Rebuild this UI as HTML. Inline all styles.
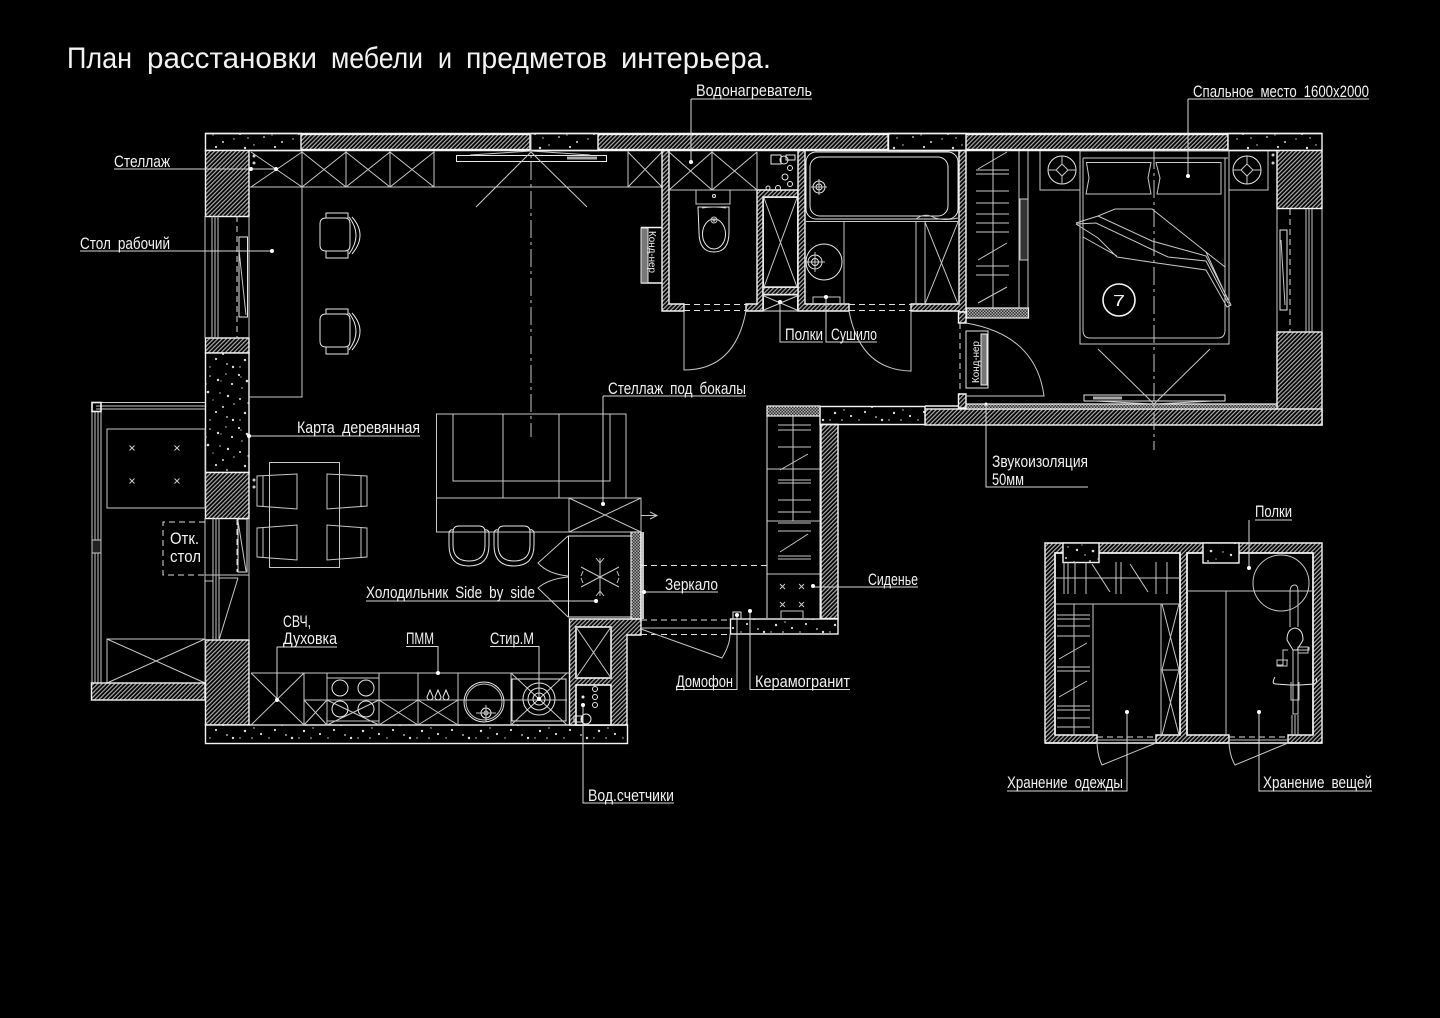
<!DOCTYPE html>
<html><head><meta charset="utf-8"><title>План расстановки</title>
<style>
html,body{margin:0;padding:0;background:#000}
svg{display:block}
text{font-family:"Liberation Sans","DejaVu Sans",sans-serif;fill:#f2f2f2;font-size:16.5px;word-spacing:4px}
.w{stroke:#f4f4f4;stroke-width:1.6;fill:none}
.l{stroke:#c8c8c8;stroke-width:1;fill:none}
.b{stroke:#e8e8e8;stroke-width:1;fill:none}
.d{stroke:#e0e0e0;stroke-width:1;fill:none;stroke-dasharray:6 4}
.c{stroke:#c8c8c8;stroke-width:1;fill:none;stroke-dasharray:18 4 3 4}
.h{fill:url(#hatch);stroke:#f4f4f4;stroke-width:1.4}
.s{fill:url(#spk);stroke:#f4f4f4;stroke-width:1.4}
.k{fill:url(#chk);stroke:#f4f4f4;stroke-width:1.2}
.t{font-size:30px;word-spacing:0}
</style></head><body>
<svg width="1440" height="1018" viewBox="0 0 1440 1018" xmlns="http://www.w3.org/2000/svg">
<defs>
<pattern id="hatch" width="3" height="3" patternUnits="userSpaceOnUse" patternTransform="rotate(-45)"><rect width="3" height="3" fill="#000"/><rect width="3" height="1.2" fill="#b0b0b0"/></pattern>
<pattern id="chk" width="3" height="3" patternUnits="userSpaceOnUse"><rect width="3" height="3" fill="#333"/><rect width="1.5" height="1.5" fill="#aaa"/><rect x="1.5" y="1.5" width="1.5" height="1.5" fill="#aaa"/></pattern>
<pattern id="spk" width="59" height="53" patternUnits="userSpaceOnUse"><rect width="59" height="53" fill="#000"/>
<g fill="#ddd"><circle cx="3" cy="4" r="1.100"/><circle cx="5" cy="6" r=".6"/><circle cx="11" cy="10" r="1.300"/><circle cx="18" cy="3" r=".7"/><circle cx="26" cy="12" r="1.100"/><circle cx="29" cy="13" r=".7"/><circle cx="33" cy="5" r=".8"/><circle cx="6" cy="17" r=".7"/><circle cx="15" cy="20" r="1.200"/><circle cx="23" cy="25" r=".7"/><circle cx="31" cy="21" r="1.300"/><circle cx="4" cy="28" r="1"/><circle cx="12" cy="32" r=".7"/><circle cx="20" cy="15" r=".6"/><circle cx="28" cy="31" r=".9"/><circle cx="36" cy="29" r=".6"/><circle cx="41" cy="9" r="1.200"/><circle cx="44" cy="10" r=".6"/><circle cx="49" cy="3" r=".7"/><circle cx="55" cy="13" r="1.100"/><circle cx="43" cy="22" r=".7"/><circle cx="51" cy="25" r="1.200"/><circle cx="57" cy="33" r=".7"/><circle cx="46" cy="36" r="1"/><circle cx="39" cy="41" r="1.100"/><circle cx="9" cy="42" r="1.200"/><circle cx="18" cy="39" r=".7"/><circle cx="25" cy="45" r="1.100"/><circle cx="33" cy="49" r=".7"/><circle cx="4" cy="49" r=".7"/><circle cx="50" cy="46" r=".9"/><circle cx="56" cy="49" r="1.200"/><circle cx="16" cy="49" r=".8"/></g></pattern>
</defs>
<rect width="1440" height="1018" fill="#000"/>

<!-- outer walls -->
<rect class="s" x="205.500" y="133.500" width="96" height="17"/>
<rect class="h" x="301" y="134.500" width="229" height="15"/>
<rect class="s" x="530.500" y="133.500" width="68" height="17"/>
<rect class="h" x="598" y="134.500" width="290" height="15"/>
<rect class="s" x="888.500" y="133.500" width="78" height="17"/>
<rect class="h" x="966" y="134.500" width="262" height="15"/>
<rect class="s" x="1228" y="133.500" width="94" height="17"/>
<path class="w" d="M205 133.500H1322M249 150.500H1277"/>
<rect class="h" x="205.500" y="150.500" width="43.500" height="66"/>
<rect class="h" x="205.500" y="338" width="43.500" height="15"/>
<rect class="s" x="205.500" y="353" width="43.500" height="119.500"/>
<rect class="h" x="205.500" y="472.500" width="43.500" height="46"/>
<rect class="h" x="205.500" y="640" width="43.500" height="85"/>
<rect class="s" x="205.500" y="725" width="422" height="18.500"/>
<rect class="h" x="1277" y="150.500" width="45" height="58"/>
<rect class="h" x="1277" y="332" width="45" height="93"/>
<rect class="h" x="925" y="409" width="397" height="16"/>
<rect class="k" x="960" y="404" width="317" height="5"/>
<rect class="s" x="820" y="406.500" width="105" height="18"/>
<rect class="k" x="767" y="406" width="53" height="10"/>
<rect class="h" x="821" y="424.500" width="17" height="194"/>
<rect class="s" x="730.500" y="619" width="107.500" height="15"/>
<rect class="k" x="631" y="532" width="10" height="87"/>
<path class="h" d="M569.500 619H641V635H627V725H569.500Z"/>
<rect x="576" y="627" width="35" height="51" class="w" style="fill:#000"/>
<rect x="576" y="685" width="35" height="40" class="w" style="fill:#000"/>
<path class="l" d="M576 627L611 678M611 627L576 678"/>
<path class="w" d="M820 424.500H838M925 406H960"/>
<path class="b" d="M767 416V618M820 416V619"/>

<!-- windows left -->
<path class="l" d="M205 216V338M212 216V338M215 216V338M218 216V338M249 216V338"/>
<path class="d" d="M237 216V338" stroke-dasharray="4 3"/>
<rect class="b" x="239" y="237" width="8.500" height="80"/>
<path class="l" d="M239 250L246 315"/>
<path class="l" d="M205 518V640M213 518V640M216 518V640M219 518V640M249 518V640M205 575H249M205 581H213M219 578H238M238 578L219 640"/>
<path class="d" d="M237 519V572" stroke-dasharray="3 3"/>
<rect class="b" x="238" y="519" width="9" height="53"/>
<path class="l" d="M238 521L246 571"/>
<!-- balcony -->
<path class="l" d="M96 406H205M96 402.500H205M96 409H205M92 411V683M95 411V683M98 411V683M101 411V683"/>
<rect class="w" x="92" y="402.500" width="9" height="9"/>
<rect x="92" y="540" width="9" height="13" class="l" style="fill:#222"/>
<rect class="l" x="107" y="429" width="98" height="79"/>
<path stroke="#ccc" fill="none" d="M129.500 445.500l5 5M134.500 445.500l-5 5M174.500 445.500l5 5M179.500 445.500l-5 5M129.500 478.500l5 5M134.500 478.500l-5 5M174.500 478.500l5 5M179.500 478.500l-5 5"/>
<path class="d" d="M205 522H163V575H205" stroke-dasharray="5 4"/>
<text x="170" y="544" textLength="29" lengthAdjust="spacingAndGlyphs">Отк.</text>
<text x="170" y="562" textLength="31" lengthAdjust="spacingAndGlyphs">стол</text>
<rect class="l" x="107" y="639" width="98" height="44"/>
<path class="l" d="M107 639L205 683M205 639L107 683"/>
<rect class="h" x="91.500" y="683" width="113.500" height="17"/>

<!-- stellage top -->
<path class="l" d="M249 187H662M302 151V187M346 151V187M390 151V187M434 151V187M628 151V187"/>
<path class="l" d="M251 152L302 187M302 152L251 187M302 152L346 187M346 152L302 187M346 152L390 187M390 152L346 187M390 152L434 187M434 152L390 187M628 152L662 187M662 152L628 187"/>
<circle cx="254" cy="156" r="1.500" fill="#ccc"/><circle cx="254" cy="163" r="1.500" fill="#ccc"/>
<rect class="b" x="456.500" y="155.500" width="150" height="6"/>
<path class="l" d="M531 152L476 207M531 152L587 207M470 155L531 151L590 155"/>
<rect x="567" y="156.500" width="30" height="3" fill="#aaa"/>
<path class="c" d="M531 133V437"/>
<!-- desk -->
<path class="l" d="M302 187V397H249"/>
<g class="b"><path d="M320 224Q320 218 326 218H345Q350 218 350 224V245Q350 251 345 251H326Q320 251 320 245Z"/><path d="M326 218V213H348V218M326 251V258H348V251M352 217Q368 235 352 254M349 217Q363 235 349 254"/></g>
<g class="b" transform="translate(0,96)"><path d="M320 224Q320 218 326 218H345Q350 218 350 224V245Q350 251 345 251H326Q320 251 320 245Z"/><path d="M326 218V213H348V218M326 251V258H348V251M352 217Q368 235 352 254M349 217Q363 235 349 254"/></g>

<!-- dining -->
<rect class="l" x="269.500" y="462.500" width="70" height="105"/>
<g class="l"><path d="M257 476L297 474V509L257 506ZM263 475.500V506.500"/><path d="M257 528L297 525V560L257 557ZM263 527.500V557.500"/><path d="M367 476L327 474V509L367 506ZM361 475.500V506.500"/><path d="M367 528L327 525V560L367 557ZM361 527.500V557.500"/></g>
<circle cx="254" cy="480" r="1.500" fill="#ccc"/><circle cx="254" cy="487" r="1.500" fill="#ccc"/>

<!-- sofa + bar -->
<rect class="l" x="436.500" y="414" width="189.500" height="84"/>
<path class="l" d="M453 414V481H610V414M503 414V498M559 414V498M436.500 498V532H641M569 498V532M569 498H641V532M569 498L641 532M641 498L569 532"/>
<path class="l" d="M641 515.500H657M650 512L657 515.500L650 519"/>
<g class="b"><path d="M449 532V545Q449 566 469 566Q489 566 489 545V532Q487 529 485 530M449 532Q451 529 453 530M453 545V532Q453 526 459 526H479Q485 526 485 532V545Q485 561 469 561Q453 561 453 545Z"/></g>
<g class="b" transform="translate(45,0)"><path d="M449 532V545Q449 566 469 566Q489 566 489 545V532Q487 529 485 530M449 532Q451 529 453 530M453 545V532Q453 526 459 526H479Q485 526 485 532V545Q485 561 469 561Q453 561 453 545Z"/></g>
<!-- fridge -->
<rect class="b" x="568.500" y="536" width="62.500" height="81"/>
<path class="l" d="M568 536L538 563Q548 574 568 576M568 617L538 588Q548 579 568 577"/>
<path class="l" d="M600 558V596M581 567L619 587M619 567L581 587M600 563L596 558M600 563L604 558M600 591L596 596M600 591L604 596M583 571L581 576M617 571L619 576M583 583L581 578M617 583L619 578"/>

<!-- corridor -->
<path class="d" d="M641 565.500H767M641 620H730M641 634.500H730" stroke-dasharray="6 4"/>
<path class="w" d="M641 532V619M643 532V619"/>
<path class="l" d="M641 629L722 658Q730 645 730 634M641 628H730"/>
<!-- closet -->
<path class="l" d="M767 469H820M767 521H820M767 574H820M793 416V521"/>
<path class="l" d="M778 425H811M778 430H811M778 447H811M780 470L808 454M778 480H811M778 483H811M778 500H811M778 512H811M778 523H811M780 552L808 534M778 531H811M778 556H811M778 559H811"/>
<path stroke="#ccc" fill="none" d="M780 584l5 5M785 584l-5 5M799 584l5 5M804 584l-5 5M780 602l5 5M785 602l-5 5M799 602l5 5M804 602l-5 5M781 618V611H803V618"/>

<!-- kitchen -->
<path class="l" d="M251 673H570M251 725H304M304 673V725M251 673L304 725M304 673L251 725M304 700H567M327 673V725M379 673V725M418 673V725M458 673V725M511 673V725"/>
<path class="l" d="M304 700L327 725M327 700L304 725M327 700L379 725M379 700L327 725M379 700L418 725M418 700L379 725M418 700L458 725M458 700L418 725"/>
<rect class="l" x="327" y="678" width="52" height="43"/>
<circle class="b" cx="340" cy="688" r="8"/><circle class="b" cx="366" cy="688" r="8"/><circle class="b" cx="340" cy="709" r="8"/><circle class="b" cx="366" cy="709" r="8"/>
<path class="b" d="M431 690L428 697A3 3 0 1 0 434 697ZM439 690L436 697A3 3 0 1 0 442 697ZM447 690L444 697A3 3 0 1 0 450 697Z" transform="translate(-1,0)"/>
<circle class="b" cx="484" cy="702" r="20"/><circle class="l" cx="484" cy="702" r="18"/>
<circle class="b" cx="486" cy="713" r="5"/><circle class="l" cx="486" cy="713" r="2"/><path class="l" d="M476 713H496M486 705V722"/>
<rect class="b" x="512" y="679" width="54" height="42"/>
<path class="l" d="M511 673L567 725M567 673L511 725"/>
<circle class="b" cx="539" cy="699" r="6"/><circle class="b" cx="539" cy="699" r="11"/><circle class="b" cx="539" cy="699" r="16"/>
<!-- meters box -->
<circle class="b" cx="595" cy="689" r="2.500"/><circle class="b" cx="595" cy="697" r="2.500"/><circle class="b" cx="595" cy="705" r="2.500"/>
<circle cx="583" cy="697" r="1.500" fill="#eee"/><circle cx="583" cy="705" r="1.500" fill="#eee"/>
<circle class="b" cx="586" cy="719" r="5"/><rect class="b" x="574" y="716" width="8" height="6"/>

<!-- bathroom walls -->
<path class="h" d="M662 150.500H669V304H684V311H662Z"/>
<path class="h" d="M746 304H757V190H798V197H763V311H746Z"/>
<path class="h" d="M798 150.500H805V304H849V311H798Z"/>
<rect class="h" x="763" y="287" width="35" height="7.500"/>
<path class="h" d="M911 304H959V150.500H966V312H959V311H911Z"/>
<path class="d" d="M684 304.500H746M684 310.500H746M849 304.500H911M849 310.500H911"/>
<rect class="b" x="763.500" y="197.500" width="34" height="90"/>
<path class="l" d="M764 198L797 287M797 198L764 287"/>
<rect class="b" x="763.500" y="295" width="34" height="16"/>
<path class="l" d="M764 296L797 310M797 296L764 310"/>
<path class="l" d="M684 311V370Q735 370 746 311M911 311V371Q860 370 849 311"/>
<path class="l" d="M669 190H757M712 151V190M669 152L712 190M712 152L669 190M712 152L757 190M757 152L712 190M757 152V190"/>
<rect class="l" x="696" y="190" width="34" height="14"/>
<path class="b" d="M698 207H729V232Q729 252 714 252Q699 252 699 232Z"/>
<ellipse class="b" cx="714" cy="234" rx="11.500" ry="15"/>
<circle class="b" cx="714" cy="196" r="1.500"/><circle class="l" cx="714" cy="220" r="3"/>
<path class="l" d="M702 208Q714 206 726 208"/>
<circle class="b" cx="714" cy="220" r="1"/>
<path class="b" d="M771 155H781V164H771ZM786 155H795V160H786Z"/><circle class="b" cx="784" cy="160" r="4"/>
<circle class="b" cx="790" cy="168" r="2.500"/><circle class="b" cx="790" cy="184" r="2.500"/><circle class="b" cx="785" cy="177" r="3"/><circle class="b" cx="778" cy="188" r="2.500"/><circle class="b" cx="768" cy="188" r="2"/>
<!-- tub -->
<rect class="b" x="806" y="152" width="152" height="67" rx="10"/>
<rect class="b" x="810" y="157" width="138" height="59" rx="10"/>
<circle class="b" cx="819" cy="187" r="6"/><circle class="b" cx="819" cy="187" r="3"/><path class="l" d="M811 187H827M819 179V195"/>
<path class="l" d="M805 221.500H959M844 221V304M916 221V304M925 221V304M925 222L958 304M958 222L925 304"/>
<path class="l" d="M916 219Q925 212 935 218Q945 221 958 218"/>
<circle class="b" cx="824" cy="262" r="18"/>
<circle class="b" cx="815" cy="262" r="7"/><circle class="b" cx="815" cy="262" r="3.500"/><path class="l" d="M805 262H825M815 252V272"/>
<path class="l" d="M813 304V297H840V304"/>
<!-- Кондиционеры -->
<path class="w" d="M641 227.500H662M641 283H662"/>
<rect x="641" y="228" width="7" height="55" class="b" style="fill:#777"/>
<text transform="translate(649,231) rotate(90)" textLength="42" lengthAdjust="spacingAndGlyphs" style="font-size:10.500px">Конд-нер</text>
<rect class="b" x="966" y="331" width="22" height="57"/>
<rect x="981" y="334" width="6" height="51" class="b" style="fill:#777"/>
<text transform="translate(979,383) rotate(-90)" textLength="42" lengthAdjust="spacingAndGlyphs" style="font-size:10.500px">Конд-нер</text>

<!-- bedroom wardrobe -->
<rect class="k" x="966.500" y="308" width="62" height="10"/>
<path class="h" d="M958.500 312H966V323H958.500Z"/>
<path class="h" d="M958.500 394H966V408H958.500Z"/>
<path class="l" d="M993 151V308M1019 151V308M1028 151V308"/>
<rect x="1020" y="199" width="8" height="61" class="l" style="fill:#333"/>
<path class="l" d="M976 170H1009M976 174H1009M976 191H1009M976 203H1009M976 214H1009M976 223H1009M976 232H1009M976 266H1009M976 275H1009M978 169L1007 152M978 260L1007 243M978 303L1007 287"/>
<path class="d" d="M960 323V394" stroke-dasharray="5 4"/>
<path class="l" d="M966 396H1044Q1036 335 966 323"/>
<!-- bed -->
<rect class="l" x="1080" y="151" width="149" height="193"/>
<path class="l" d="M1083 158H1228M1083 158V330Q1083 338 1090 338H1218Q1225 338 1225 330V158"/>
<path class="l" d="M1086.500 162.500H1151L1148 178L1151 194H1086L1089 178ZM1156 162.500H1221V194H1157L1160 178Z"/>
<path class="l" d="M1040 151V190H1080M1268 151V190H1229"/>
<circle class="b" cx="1062" cy="170" r="14"/><circle class="b" cx="1247" cy="170" r="14"/>
<path class="l" d="M1062 156V164M1062 176V184M1048 170H1056M1068 170H1076M1056 170L1062 164L1068 170L1062 176ZM1247 156V164M1247 176V184M1233 170H1241M1253 170H1261M1241 170L1247 164L1253 170L1247 176Z"/>
<path class="l" d="M1076 223L1098 216L1115 209H1152L1206 252L1225 267M1098 216L1152 241L1206 256L1231 305L1227 307L1206 270L1150 262L1117 257L1098 238L1076 224M1076 224L1096 223L1153 250L1168 257L1206 261L1228 303M1083 237L1117 256M1206 252L1228 300"/>
<path class="c" d="M1154 151V450"/>
<circle class="w" cx="1119" cy="300" r="16"/>
<text x="1113" y="306" textLength="12" lengthAdjust="spacingAndGlyphs" style="font-size:16px">7</text>
<rect class="b" x="1084" y="395" width="141" height="6"/>
<rect x="1093" y="396.500" width="29" height="3" fill="#aaa"/>
<path class="l" d="M1098 349L1154 404L1210 349M1094 401L1154 404L1214 401"/>
<!-- right window -->
<path class="l" d="M1277 209V332M1306 209V332M1309 209V332M1312 209V332M1322 209V332"/>
<path class="d" d="M1290 209V332" stroke-dasharray="4 3"/>
<rect class="b" x="1280" y="230" width="7" height="80"/>
<path class="l" d="M1281 240L1285 305"/>
<circle cx="1273" cy="155" r="1.500" fill="#ccc"/><circle cx="1273" cy="163" r="1.500" fill="#ccc"/>

<!-- storage room -->
<path class="h" fill-rule="evenodd" d="M1045 543H1322V743H1288V735H1313V553H1187V735H1229V743H1156V735H1180V553H1055V735H1097V743H1045Z"/>
<path class="w" d="M1055 735V553H1180V735M1187 735V553H1313V735"/>
<rect class="s" x="1063" y="543" width="36" height="19.500"/>
<rect class="s" x="1203" y="543" width="36" height="20"/>
<path class="w" d="M1045 743H1322"/>
<path class="d" d="M1097 737H1156M1229 737H1288" stroke="#fff"/>
<path class="l" d="M1097 740H1156M1229 740H1288"/>
<path class="l" d="M1097 740Q1097 755 1102 765L1156 743M1229 740Q1229 755 1235 765L1288 743"/>
<path class="l" d="M1055 578H1180M1055 604H1180M1093 604V735M1161 604V735M1074 604V735"/>
<path class="l" d="M1064 562V594M1068 562V594M1075 562V594M1086 562V594M1116 562V594M1121 562V594M1156 562V594M1167 562V594M1092 564L1110 592M1130 564L1148 592"/>
<path class="l" d="M1057 615H1090M1057 619H1090M1057 626H1090M1057 636H1090M1057 667H1090M1057 671H1090M1057 706H1090M1057 710H1090M1057 718H1090M1057 727H1090M1059 659L1087 643M1059 697L1087 681"/>
<path class="l" d="M1162 670H1179M1162 604L1179 670M1179 604L1162 670M1162 670L1179 735M1179 670L1162 735"/>
<path class="l" d="M1187 591H1313M1226 591V735"/>
<circle class="l" cx="1281" cy="583" r="28"/>
<path class="l" d="M1290 627V592Q1290 585 1295 585Q1298 585 1298 592V627"/>
<path class="b" d="M1287 640Q1287 629 1295 628Q1303 629 1303 640L1297 650H1293Z"/>
<path class="l" d="M1293 650V714H1298V650M1298 650H1309V647M1288 650H1283V665H1277V660M1277 660H1288M1287 660V665"/>
<rect class="l" x="1277" y="660" width="10" height="6"/><rect class="l" x="1298" y="647" width="10" height="6"/>
<path class="b" d="M1275 677Q1271 684 1276 684L1290 685H1300L1314 684Q1318 682 1316 678"/>
<path class="l" d="M1291 682V700H1299V682M1292 715V735M1295 715V735M1298 715V735"/>

<!-- leaders -->
<g fill="none" stroke="#d8d8d8" stroke-width="1">
<path d="M114 169H276M80 251H272M249 436H420M691 99V162M691 99H812M1188 99V176M1188 99H1369M603 396V504M603 396H746M986 404V487H1088M644 592H718M813 587H918M366 601H596M283 647H337M277 647V700M277 647H337M406 646.500H438V673M490 646.500H539V699M676 689.500H737V615M750 611V689.500H850M583 705V803H674M780 302V342H823M826 297V342H877M1255 520H1292M1249 520V568M1007 791H1127V712M1259 712V791H1372"/>
</g>
<g fill="#fff"><circle cx="251" cy="169" r="2"/><circle cx="276" cy="169" r="2"/><circle cx="272" cy="251" r="2"/><circle cx="249" cy="436" r="2"/><circle cx="691" cy="162" r="2"/><circle cx="1188" cy="176" r="2"/><circle cx="603" cy="504" r="2"/><circle cx="986" cy="404" r="1.500"/><circle cx="644" cy="592" r="2"/><circle cx="813" cy="586" r="2"/><circle cx="596" cy="601" r="2"/><circle cx="277" cy="700" r="2"/><circle cx="438" cy="673" r="2"/><circle cx="539" cy="699" r="2"/><circle cx="737" cy="615" r="2"/><circle cx="750" cy="611" r="2"/><circle cx="583" cy="705" r="2"/><circle cx="780" cy="302" r="2"/><circle cx="826" cy="297" r="2"/><circle cx="1249" cy="568" r="2"/><circle cx="1127" cy="712" r="2"/><circle cx="1259" cy="712" r="2"/></g>
<rect class="b" x="733" y="612" width="8" height="7"/>

<!-- labels -->
<text class="t" x="67" y="68" textLength="65" lengthAdjust="spacingAndGlyphs">План</text>
<text class="t" x="147" y="68" textLength="170" lengthAdjust="spacingAndGlyphs">расстановки</text>
<text class="t" x="331" y="68" textLength="92" lengthAdjust="spacingAndGlyphs">мебели</text>
<text class="t" x="438" y="68" textLength="14" lengthAdjust="spacingAndGlyphs">и</text>
<text class="t" x="466" y="68" textLength="141" lengthAdjust="spacingAndGlyphs">предметов</text>
<text class="t" x="621" y="68" textLength="150" lengthAdjust="spacingAndGlyphs">интерьера.</text>
<text x="114" y="167" textLength="56" lengthAdjust="spacingAndGlyphs">Стеллаж</text>
<text x="80" y="249" textLength="90" lengthAdjust="spacingAndGlyphs">Стол рабочий</text>
<text x="297" y="433" textLength="123" lengthAdjust="spacingAndGlyphs">Карта деревянная</text>
<text x="696" y="96" textLength="116" lengthAdjust="spacingAndGlyphs">Водонагреватель</text>
<text x="1193" y="97" textLength="176" lengthAdjust="spacingAndGlyphs">Спальное место 1600х2000</text>
<text x="608" y="394" textLength="138" lengthAdjust="spacingAndGlyphs">Стеллаж под бокалы</text>
<text x="992" y="467" textLength="96" lengthAdjust="spacingAndGlyphs">Звукоизоляция</text>
<text x="992" y="485" textLength="32" lengthAdjust="spacingAndGlyphs">50мм</text>
<text x="665" y="590" textLength="53" lengthAdjust="spacingAndGlyphs">Зеркало</text>
<text x="868" y="585" textLength="50" lengthAdjust="spacingAndGlyphs">Сиденье</text>
<text x="366" y="598" textLength="169" lengthAdjust="spacingAndGlyphs">Холодильник Side by side</text>
<text x="283" y="627" textLength="28" lengthAdjust="spacingAndGlyphs">СВЧ,</text>
<text x="283" y="644" textLength="54" lengthAdjust="spacingAndGlyphs">Духовка</text>
<text x="406" y="644" textLength="28" lengthAdjust="spacingAndGlyphs">ПММ</text>
<text x="490" y="644" textLength="44" lengthAdjust="spacingAndGlyphs">Стир.М</text>
<text x="676" y="687" textLength="57" lengthAdjust="spacingAndGlyphs">Домофон</text>
<text x="755" y="687" textLength="95" lengthAdjust="spacingAndGlyphs">Керамогранит</text>
<text x="588" y="801" textLength="86" lengthAdjust="spacingAndGlyphs">Вод.счетчики</text>
<text x="785" y="340" textLength="38" lengthAdjust="spacingAndGlyphs">Полки</text>
<text x="831" y="340" textLength="46" lengthAdjust="spacingAndGlyphs">Сушило</text>
<text x="1255" y="517" textLength="37" lengthAdjust="spacingAndGlyphs">Полки</text>
<text x="1007" y="788" textLength="116" lengthAdjust="spacingAndGlyphs">Хранение одежды</text>
<text x="1263" y="788" textLength="109" lengthAdjust="spacingAndGlyphs">Хранение вещей</text>
</svg>
</body></html>
